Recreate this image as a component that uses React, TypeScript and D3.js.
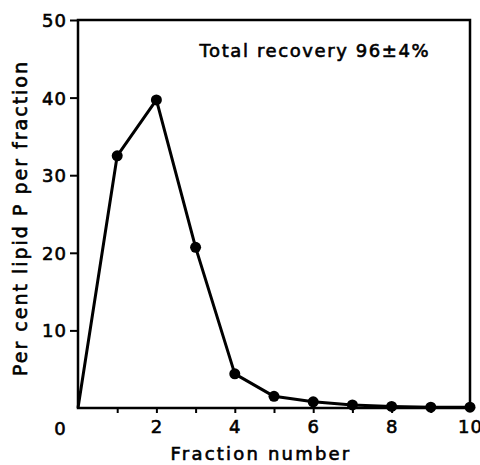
import React, { useEffect, useRef } from 'react';
import * as d3 from 'd3';

const fractions = [0, 1, 2, 3, 4, 5, 6, 7, 8, 9, 10];
const lipidP = [0, 32.5, 39.7, 20.7, 4.4, 1.5, 0.8, 0.4, 0.2, 0.1, 0.1];
const yTicks = [10, 20, 30, 40, 50];
const xLabelTicks = [2, 4, 6, 8, 10];
const xMinorTicks = [1, 2, 3, 4, 5, 6, 7, 8, 9];

const W = 480;
const H = 465;
const margin = { top: 20, right: 10, bottom: 57, left: 78 };
const FONT = '"DejaVu Sans", sans-serif';

const App = () => {
  const svgRef = useRef<SVGSVGElement>(null);

  useEffect(() => {
    const svg = d3.select(svgRef.current);
    svg.selectAll('*').remove();

    const width = W - margin.left - margin.right;
    const height = H - margin.top - margin.bottom;

    const x = d3.scaleLinear().domain([0, 10]).range([0, width]);
    const y = d3.scaleLinear().domain([0, 50]).range([height, 0]);

    const g = svg.append('g').attr('transform', `translate(${margin.left},${margin.top})`);

    const styleText = (sel: any, size: number) =>
      sel
        .style('font-family', FONT)
        .style('font-size', `${size}px`)
        .attr('fill', '#000')
        .attr('stroke', '#000')
        .attr('stroke-width', 0.6);

    // frame
    g.append('rect')
      .attr('x', 0)
      .attr('y', 0)
      .attr('width', width)
      .attr('height', height)
      .attr('fill', 'none')
      .attr('stroke', '#000')
      .attr('stroke-width', 2.5);

    // y axis
    const yAxis = g.append('g').call(
      d3.axisLeft(y).tickValues(yTicks).tickSize(8).tickPadding(3)
    );
    yAxis.select('.domain').remove();
    yAxis.selectAll('line').attr('stroke-width', 2);
    styleText(yAxis.selectAll('text'), 18).attr('dy', '0.36em').attr('letter-spacing', '1px');

    // x axis minor ticks
    const xAxis = g.append('g')
      .attr('transform', `translate(0,${height})`)
      .call(d3.axisBottom(x).tickValues(xMinorTicks).tickSize(5).tickFormat(() => ''));
    xAxis.select('.domain').remove();
    xAxis.selectAll('line').attr('stroke-width', 2);

    // x labels
    const xLab = g.append('g')
      .attr('transform', `translate(0,${height})`)
      .call(d3.axisBottom(x).tickValues(xLabelTicks).tickSize(0).tickPadding(12));
    xLab.select('.domain').remove();
    styleText(xLab.selectAll('text'), 18).attr('letter-spacing', '1px');

    // origin label
    styleText(
      g.append('text')
        .attr('x', x(0) - 18)
        .attr('y', height + 27)
        .attr('text-anchor', 'middle'),
      18
    ).text('0');

    const data = fractions.map((f, i) => ({ f, v: lipidP[i] }));

    const line = d3.line<{ f: number; v: number }>()
      .x((d) => x(d.f))
      .y((d) => y(d.v));

    g.append('path')
      .datum(data)
      .attr('d', line)
      .attr('fill', 'none')
      .attr('stroke', '#000')
      .attr('stroke-width', 3)
      .attr('stroke-linejoin', 'round');

    g.selectAll('.pt')
      .data(data.filter((d) => d.f > 0))
      .enter()
      .append('circle')
      .attr('cx', (d) => x(d.f))
      .attr('cy', (d) => y(d.v))
      .attr('r', 5.5)
      .attr('fill', '#000');

    styleText(
      g.append('text')
        .attr('x', x(3.1))
        .attr('y', y(45.2))
        .attr('letter-spacing', '1.6px'),
      18
    ).text('Total recovery 96±4%');

    styleText(
      svg.append('text')
        .attr('x', 261)
        .attr('y', 460)
        .attr('text-anchor', 'middle')
        .attr('letter-spacing', '2.2px'),
      18
    ).text('Fraction number');

    styleText(
      svg.append('text')
        .attr('transform', `translate(27,${218}) rotate(-90)`)
        .attr('text-anchor', 'middle')
        .attr('letter-spacing', '2px')
        .attr('stroke-width', 0.3),
      19
    ).text('Per cent lipid P per fraction');
  }, []);

  return (
    <svg
      ref={svgRef}
      width={W}
      height={H}
      style={{ position: 'absolute', left: 0, top: 0, background: '#fff' }}
    />
  );
};

export default App;
